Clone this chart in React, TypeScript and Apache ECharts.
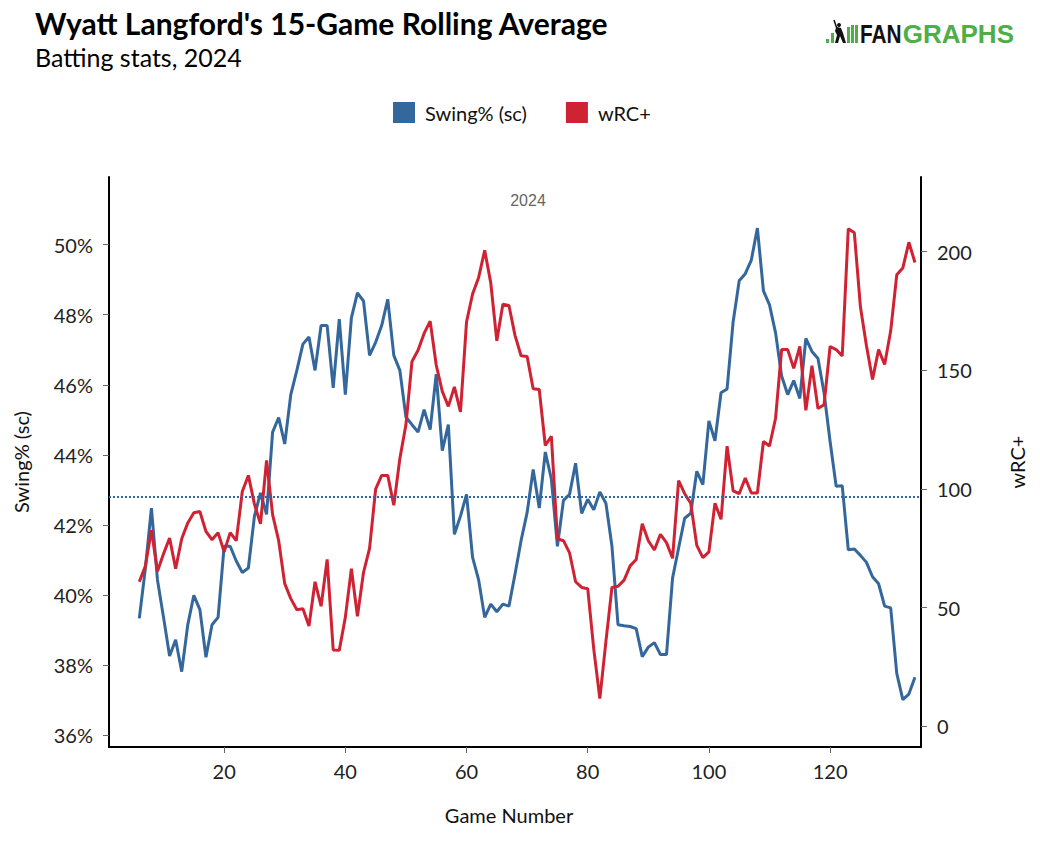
import { useEffect, useRef } from "react";
import * as echarts from "echarts";

// 15-game rolling values, one entry per game starting at game 6
const firstGame = 6;

const swingPct = [
  39.33, 40.75, 42.48, 40.43, 39.36, 38.26, 38.72, 37.81, 39.15, 39.99,
  39.58, 38.22, 39.15, 39.36, 41.39, 41.39, 40.97, 40.64, 40.77, 42.25,
  42.91, 42.3, 44.65, 45.06, 44.31, 45.72, 46.41, 47.16, 47.36, 46.41,
  47.69, 47.69, 45.91, 47.87, 45.72, 47.91, 48.62, 48.39, 46.84, 47.21,
  47.69, 48.44, 46.84, 46.41, 45.08, 44.86, 44.65, 45.29, 44.72, 46.3,
  44.12, 44.86, 41.73, 42.25, 42.87, 41.07, 40.43, 39.36, 39.74, 39.52,
  39.74, 39.68, 40.59, 41.55, 42.35, 43.58, 42.48, 44.08, 43.31, 41.39,
  42.7, 42.87, 43.76, 42.33, 42.73, 42.43, 42.94, 42.62, 41.39, 39.15,
  39.12, 39.1, 39.04, 38.24, 38.51, 38.64, 38.3, 38.3, 40.48, 41.34,
  42.19, 42.33, 43.53, 43.15, 44.97, 44.4, 45.77, 45.88, 47.8, 48.97,
  49.17, 49.56, 50.47, 48.68, 48.28, 47.48, 46.25, 45.72, 46.12, 45.61,
  47.32, 46.95, 46.75, 45.77, 44.38, 43.1, 43.12, 41.29, 41.31, 41.13,
  40.93, 40.52, 40.32, 39.68, 39.63, 37.76, 37.01, 37.17, 37.65,
];

const wrcPlus = [
  60.9, 67.5, 82.6, 65.3, 72.7, 79.3, 66.4, 79.0, 85.7, 90.0,
  90.5, 82.1, 78.6, 81.6, 73.5, 81.6, 78.2, 98.9, 105.7, 93.6,
  85.3, 112.0, 89.2, 78.2, 60.1, 53.8, 49.1, 49.5, 42.3, 60.9,
  50.6, 70.3, 32.2, 32.0, 45.9, 66.4, 46.4, 64.8, 75.0, 99.9,
  105.7, 105.7, 93.1, 112.8, 127.0, 153.7, 158.4, 165.5, 170.7, 152.2,
  141.1, 134.8, 143.0, 132.5, 170.3, 182.1, 189.1, 200.5, 186.8, 162.4,
  177.8, 177.3, 164.7, 156.1, 155.8, 142.2, 141.9, 118.3, 122.2, 79.0,
  78.2, 73.1, 60.9, 58.5, 58.0, 32.5, 11.7, 35.7, 58.5, 59.0,
  61.6, 67.6, 70.3, 85.3, 78.2, 74.3, 80.9, 77.4, 70.8, 103.5,
  98.0, 94.0, 76.2, 71.1, 73.5, 94.0, 87.2, 118.0, 99.2, 98.0,
  104.6, 98.3, 98.3, 120.0, 118.1, 129.8, 158.7, 158.7, 150.8, 160.0,
  133.1, 151.9, 133.9, 135.5, 160.0, 158.7, 156.0, 209.6, 207.9, 176.8,
  160.3, 146.1, 158.7, 152.4, 166.6, 190.2, 193.1, 203.9, 195.4,
];

const avgLine = 42.8;

const xTicks = [20, 40, 60, 80, 100, 120];
const leftTicks = [36, 38, 40, 42, 44, 46, 48, 50];
const rightTicks = [0, 50, 100, 150, 200];

const BLUE = "#34679b";
const RED = "#cf2233";
const GREEN = "#4fae48";
const FONT = "Lato";

function Chart() {
  const chartRef = useRef<HTMLDivElement>(null);

  useEffect(() => {
    if (!chartRef.current) return;
    const chart = echarts.init(chartRef.current, null, { renderer: "svg" });

    const swingData = swingPct.map((v, i) => [firstGame + i, v]);
    const wrcData = wrcPlus.map((v, i) => [firstGame + i, v]);

    const tickLabel = { fontFamily: FONT, fontSize: 20, color: "#222" };
    const axisName = { fontFamily: FONT, fontSize: 20, color: "#111" };

    chart.setOption({
      animation: false,
      textStyle: { fontFamily: FONT },
      grid: {
        left: 109,
        right: 119,
        top: 177,
        bottom: 110,
        outerBoundsMode: "none",
      },
      legend: {
        left: 393,
        top: 102,
        padding: 0,
        icon: "rect",
        itemWidth: 22,
        itemHeight: 21,
        itemGap: 39,
        textStyle: { fontFamily: FONT, fontSize: 20, color: "#111", padding: [0, 0, 0, 5] },
        data: ["Swing% (sc)", "wRC+"],
      },
      xAxis: {
        type: "value",
        min: 1,
        max: 135,
        name: "Game Number",
        nameLocation: "middle",
        nameGap: 58,
        nameTextStyle: { ...axisName, padding: [0, 12, 0, 0] },
        axisLine: { onZero: false, lineStyle: { color: "#000", width: 2 } },
        axisTick: { customValues: xTicks, length: 6, lineStyle: { color: "#666", width: 1 } },
        axisLabel: { customValues: xTicks, margin: 14, ...tickLabel },
        splitLine: { show: false },
      },
      yAxis: [
        {
          type: "value",
          min: 35.66,
          max: 51.93,
          name: "Swing% (sc)",
          nameLocation: "middle",
          nameGap: 78,
          nameRotate: 90,
          nameTextStyle: axisName,
          axisLine: { show: true, onZero: false, lineStyle: { color: "#000", width: 2 } },
          axisTick: { show: true, customValues: leftTicks, length: 6, lineStyle: { color: "#666", width: 1 } },
          axisLabel: { customValues: leftTicks, margin: 16, formatter: (v: number) => v + "%", ...tickLabel },
          splitLine: { show: false },
        },
        {
          type: "value",
          min: -8.7,
          max: 231.4,
          position: "right",
          name: "wRC+",
          nameLocation: "middle",
          nameGap: 86,
          nameRotate: 90,
          nameTextStyle: axisName,
          axisLine: { show: true, onZero: false, lineStyle: { color: "#000", width: 2 } },
          axisTick: { show: true, customValues: rightTicks, length: 6, lineStyle: { color: "#666", width: 1 } },
          axisLabel: { customValues: rightTicks, margin: 16, ...tickLabel },
          splitLine: { show: false },
        },
      ],
      series: [
        {
          name: "Swing% (sc)",
          type: "line",
          yAxisIndex: 0,
          data: swingData,
          showSymbol: false,
          color: BLUE,
          lineStyle: { color: BLUE, width: 3 },
          markLine: {
            silent: true,
            symbol: "none",
            label: { show: false },
            lineStyle: { color: BLUE, type: "dotted", width: 2 },
            data: [{ yAxis: avgLine }],
          },
        },
        {
          name: "wRC+",
          type: "line",
          yAxisIndex: 1,
          data: wrcData,
          showSymbol: false,
          color: RED,
          lineStyle: { color: RED, width: 3 },
        },
      ],
      graphic: [
        {
          type: "text",
          x: 35,
          y: 23,
          style: {
            text: "Wyatt Langford's 15-Game Rolling Average",
            font: `bold 30px ${FONT}`,
            fill: "#000",
            textVerticalAlign: "middle",
          },
        },
        {
          type: "text",
          x: 35,
          y: 57,
          style: {
            text: "Batting stats, 2024",
            font: `25px ${FONT}`,
            fill: "#000",
            textVerticalAlign: "middle",
          },
        },
        {
          type: "text",
          x: 528,
          y: 200,
          style: {
            text: "2024",
            font: "16px 'Liberation Sans'",
            fill: "#666",
            textAlign: "center",
            textVerticalAlign: "middle",
          },
        },
        // FanGraphs logo
        { type: "rect", shape: { x: 826, y: 39, width: 3, height: 4 }, style: { fill: GREEN } },
        { type: "rect", shape: { x: 831, y: 33, width: 3, height: 10 }, style: { fill: GREEN } },
        {
          type: "polygon",
          shape: {
            points: [
              [837, 27], [841, 28], [843, 33], [846, 43], [843, 43], [840, 36],
              [838, 43], [835, 43], [837, 35], [835, 31], [836, 28],
            ],
          },
          style: { fill: "#111" },
        },
        { type: "circle", shape: { cx: 839, cy: 25, r: 2 }, style: { fill: "#111" } },
        { type: "line", shape: { x1: 834, y1: 20, x2: 837, y2: 29 }, style: { stroke: "#111", lineWidth: 1.5 } },
        { type: "rect", shape: { x: 847, y: 27, width: 3, height: 16 }, style: { fill: GREEN } },
        { type: "rect", shape: { x: 851, y: 25, width: 3, height: 18 }, style: { fill: GREEN } },
        { type: "rect", shape: { x: 855, y: 25, width: 3, height: 18 }, style: { fill: GREEN } },
        {
          type: "text",
          x: 860,
          y: 34,
          scaleX: 0.8,
          style: {
            text: "FAN",
            font: "bold 26px 'Liberation Sans'",
            fill: "#111",
            textVerticalAlign: "middle",
          },
        },
        {
          type: "text",
          x: 1014,
          y: 34,
          style: {
            text: "GRAPHS",
            font: "bold 26px 'Liberation Sans'",
            fill: GREEN,
            textAlign: "right",
            textVerticalAlign: "middle",
          },
        },
      ],
    });

    return () => {
      chart.dispose();
    };
  }, []);

  return (
    <div
      ref={chartRef}
      style={{ position: "fixed", left: 0, top: 0, width: "1040px", height: "857px", background: "#fff" }}
    />
  );
}

export default function App() {
  return <Chart />;
}
